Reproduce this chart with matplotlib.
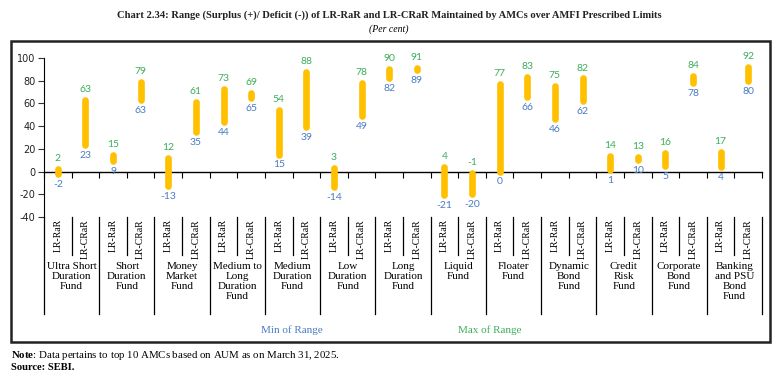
import matplotlib
matplotlib.use("Agg")
import matplotlib.pyplot as plt
import matplotlib.transforms as mtransforms
from matplotlib.patches import Rectangle

plt.rcParams["axes.unicode_minus"] = False
plt.rcParams["mathtext.fontset"] = "custom"
plt.rcParams["mathtext.rm"] = "Liberation Serif"
plt.rcParams["mathtext.bf"] = "Liberation Serif:bold"

# data: (min, max) for LR-RaR and LR-CRaR per fund category
funds = ["Ultra Short\nDuration\nFund", "Short\nDuration\nFund", "Money\nMarket\nFund",
         "Medium to\nLong\nDuration\nFund", "Medium\nDuration\nFund", "Low\nDuration\nFund",
         "Long\nDuration\nFund", "Liquid\nFund", "Floater\nFund", "Dynamic\nBond\nFund",
         "Credit\nRisk\nFund", "Corporate\nBond\nFund", "Banking\nand PSU\nBond\nFund"]
measures = ["LR-RaR", "LR-CRaR"]
rar_min = [-2, 9, -13, 44, 15, -14, 82, -21, 0, 46, 1, 5, 4]
rar_max = [2, 15, 12, 73, 54, 3, 90, 4, 77, 75, 14, 16, 17]
crar_min = [23, 63, 35, 65, 39, 49, 89, -20, 66, 62, 10, 78, 80]
crar_max = [63, 79, 61, 69, 88, 78, 91, -1, 83, 82, 13, 84, 92]

yticks = [100, 80, 60, 40, 20, 0, -20, -40]

bar_col = "#FFC000"
min_col = "#4A7CC4"
max_col = "#3DAE5C"
serif = "Liberation Serif"

W, H = 778, 381
fig = plt.figure(figsize=(W / 100, H / 100), dpi=100)
ax = fig.add_axes([44 / W, 1 - 217 / H, (762 - 44) / W, (217 - 58) / H])

mins, maxs = [], []
for a, b, c, d in zip(rar_min, rar_max, crar_min, crar_max):
    mins += [a, c]
    maxs += [b, d]
xs = [i + 0.5 for i in range(len(mins))]

for x, lo, hi in zip(xs, mins, maxs):
    ax.plot([x, x], [lo, hi], color=bar_col, lw=4.8, solid_capstyle="round", zorder=3)
    ax.annotate(str(hi), (x, hi), xytext=(0, 7.5), textcoords="offset points",
                ha="center", va="center", color=max_col, fontsize=7.5, family="Lato")
    ax.annotate(str(lo), (x, lo), xytext=(0, -7.5), textcoords="offset points",
                ha="center", va="center", color=min_col, fontsize=7.5, family="Lato")

ax.set_xlim(0, len(xs))
ax.set_ylim(-40, 100)
ax.set_yticks(yticks)
ax.tick_params(axis="y", labelsize=7, colors="#333333", length=4, width=0.8, pad=2)
for lab in ax.get_yticklabels():
    lab.set_color("#222222")
ax.set_xticks(range(len(xs) + 1))
ax.set_xticklabels([])
ax.tick_params(axis="x", length=4, width=0.8, color="black")
ax.spines["bottom"].set_position(("data", 0))
ax.spines["top"].set_visible(False)
ax.spines["right"].set_visible(False)
ax.spines["left"].set_linewidth(0.8)
ax.spines["bottom"].set_linewidth(1.0)

# multi-level category axis below the plot
tr = mtransforms.blended_transform_factory(ax.transData, fig.transFigure)
fy = lambda py: 1 - py / H
for i in range(len(xs) + 1):
    bottom = 314 if i % 2 == 0 else 255
    ax.plot([i, i], [fy(217), fy(bottom)], transform=tr, color="black", lw=0.9,
            clip_on=False)
for x in xs:
    ax.text(x, fy(219), measures[int(x) % 2], transform=tr, rotation=90, ha="center",
            va="top", fontsize=7, family=serif)
for g, name in enumerate(funds):
    ax.text(2 * g + 1, fy(262), name, transform=tr, ha="center", va="top",
            fontsize=8, family=serif, linespacing=1.15)

fig.text(292 / W, fy(330), "Min of Range", ha="center", va="center", color=min_col,
         fontsize=8, family=serif)
fig.text(490 / W, fy(330), "Max of Range", ha="center", va="center", color=max_col,
         fontsize=8, family=serif)

# outer frame
fig.patches.append(Rectangle((11 / W, fy(342)), (770 - 11) / W, (342 - 41) / H,
                             transform=fig.transFigure, fill=False, lw=1.8,
                             edgecolor="#222222"))

fig.text(0.5, fy(15), "Chart 2.34: Range (Surplus (+)/ Deficit (-)) of LR-RaR and LR-CRaR "
         "Maintained by AMCs over AMFI Prescribed Limits", ha="center", va="center",
         fontsize=7.6, family=serif, weight="bold", color="#222222")
fig.text(0.5, fy(29), "(Per cent)", ha="center", va="center", fontsize=7,
         family=serif, style="italic")

fig.text(11 / W, fy(355), r"$\mathbf{Note}$: Data pertains to top 10 AMCs based on AUM as on March 31, 2025.",
         ha="left", va="center", fontsize=7.8, family=serif)
fig.text(11 / W, fy(368), "Source: SEBI.", ha="left", va="center", fontsize=7.6,
         family=serif, weight="bold")

fig.savefig("out.png", dpi=100)
